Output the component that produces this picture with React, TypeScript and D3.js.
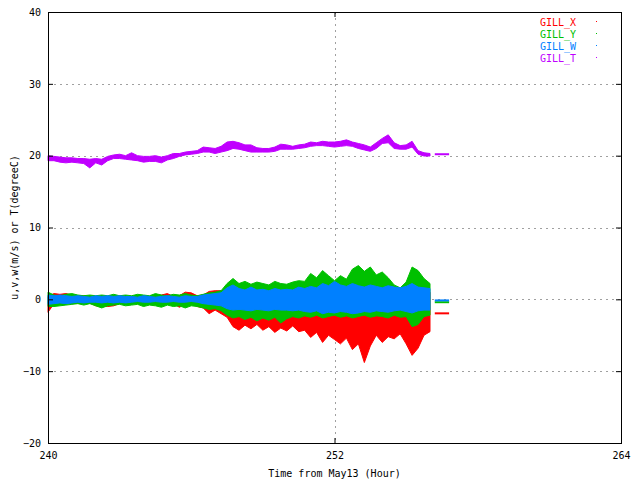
import React, { useEffect, useRef } from 'react';
import * as d3 from 'd3';

// samples every 0.25 hour from 240 to 256
const sampleStart = 240;
const sampleStep = 0.25;

// GILL_T (degC), upper / lower envelope
const gillTHi = [
  20.0, 19.9, 19.8, 19.7, 19.7, 19.6, 19.6, 19.5, 19.6, 19.5,
  19.9, 20.1, 20.2, 20.0, 20.4, 20.0, 19.9, 19.9, 20.0, 19.8,
  20.0, 20.3, 20.3, 20.5, 20.6, 20.7, 21.2, 21.1, 21.0, 21.3,
  21.9, 22.0, 21.8, 21.5, 21.5, 21.1, 21.0, 21.0, 21.2, 21.6,
  21.5, 21.3, 21.5, 21.6, 21.9, 21.8, 22.0, 21.9, 21.9, 22.0,
  22.2, 21.9, 21.7, 21.5, 21.2, 21.8, 22.4, 22.9, 21.8, 21.4,
  21.5, 22.0, 20.7, 20.4, 20.3
];
const gillTLo = [
  19.3, 19.3, 19.1, 19.0, 19.1, 19.0, 18.9, 18.3, 19.0, 18.7,
  19.3, 19.6, 19.6, 19.5, 19.4, 19.3, 19.1, 19.2, 19.2, 19.0,
  19.4, 19.6, 19.9, 20.1, 20.2, 20.3, 20.5, 20.5, 20.3, 20.5,
  20.7, 21.0, 20.9, 20.7, 20.5, 20.5, 20.5, 20.5, 20.6, 20.9,
  20.9, 20.9, 21.0, 21.1, 21.3, 21.4, 21.4, 21.3, 21.2, 21.3,
  21.4, 21.3, 21.0, 20.8, 20.6, 21.0, 21.7, 21.8, 21.0, 20.9,
  20.9, 21.2, 20.2, 19.95, 19.95
];

// GILL_W (m/s)
const gillWHi = [
  0.6, 0.5, 0.6, 0.5, 0.4, 0.5, 0.4, 0.3, 0.5, 0.4,
  0.5, 0.4, 0.5, 0.4, 0.4, 0.3, 0.5, 0.4, 0.3, 0.4,
  0.5, 0.4, 0.3, 0.5, 0.4, 0.4, 0.6, 0.7, 0.8, 0.9,
  1.6, 2.0, 1.5, 1.3, 1.7, 1.3, 1.4, 1.2, 1.5, 1.3,
  1.4, 1.3, 1.7, 1.5, 1.8, 1.6, 2.2, 1.9, 2.5, 2.0,
  1.8, 2.2, 1.9, 1.7, 2.0, 1.8, 1.6, 1.9, 1.7, 1.6,
  1.8, 2.2, 1.7, 1.6, 1.5
];
const gillWLo = [
  -0.7, -0.6, -0.5, -0.6, -0.5, -0.4, -0.5, -0.4, -0.4, -0.5,
  -0.4, -0.5, -0.4, -0.5, -0.4, -0.3, -0.4, -0.4, -0.3, -0.4,
  -0.4, -0.3, -0.4, -0.4, -0.3, -0.4, -0.6, -0.7, -0.8, -0.9,
  -1.3, -1.5, -1.4, -1.5, -1.6, -1.4, -1.5, -1.6, -1.4, -1.5,
  -1.5, -1.6, -1.5, -1.7, -1.8, -1.6, -2.0, -1.8, -1.9, -1.7,
  -1.8, -2.0, -1.9, -1.7, -1.8, -1.6, -1.7, -1.8, -1.6, -1.5,
  -1.7, -1.9, -1.6, -1.5, -1.5
];

// GILL_Y (m/s)
const gillYHi = [
  1.0, 0.6, 0.5, 0.7, 0.8, 0.6, 0.5, 0.6, 0.5, 0.6,
  0.5, 0.7, 0.5, 0.6, 0.5, 0.7, 0.6, 0.5, 0.8, 0.6,
  0.5, 0.7, 0.6, 0.8, 0.6, 0.5, 0.7, 0.9, 1.0, 1.2,
  2.2, 2.9, 2.2, 2.5, 2.1, 2.4, 2.2, 2.0, 2.5, 2.2,
  2.1, 2.4, 2.6, 2.5, 3.6, 3.0, 4.0, 3.3, 2.6, 3.3,
  2.8, 4.2, 4.7, 3.9, 4.5, 3.4, 3.8, 3.0, 2.0, 1.6,
  2.4, 4.5, 4.0, 2.9, 2.2
];
const gillYLo = [
  -1.0, -1.0, -0.9, -0.8, -0.7, -0.6, -0.8, -0.6, -0.9, -1.2,
  -0.9, -0.8, -0.7, -0.9, -0.8, -0.7, -1.0, -0.8, -0.9, -1.1,
  -0.8, -1.0, -0.9, -1.2, -0.9, -1.0, -1.2, -1.4, -1.3, -1.6,
  -2.2, -2.6, -2.4, -2.8, -2.5, -3.0, -2.6, -2.9, -2.5, -3.3,
  -2.7, -2.4, -2.6, -2.3, -2.5, -2.2, -2.6, -2.4, -2.2, -2.5,
  -2.3, -2.6, -2.4, -2.2, -2.5, -2.3, -2.4, -2.6, -2.2, -2.5,
  -2.4, -3.8, -3.5, -2.4, -2.2
];

// GILL_X (m/s)
const gillXHi = [
  0.4, 0.8, 0.7, 0.8, 0.6, 0.5, 0.5, 0.4, 0.3, 0.3,
  0.4, 0.3, 0.5, 0.4, 0.3, 0.5, 0.4, 0.3, 0.5, 0.6,
  0.8, 0.4, 0.5, 1.0, 0.9, 0.5, 0.6, 1.1, 1.2, 1.2,
  1.0, 1.2, 1.0, 1.1, 1.0, 1.1, 1.0, 1.0, 1.1, 1.0,
  1.0, 1.0, 1.1, 1.0, 1.2, 1.0, 1.2, 1.1, 1.0, 1.2,
  1.0, 1.2, 1.1, 1.0, 1.1, 1.0, 1.1, 1.0, 1.0, 1.0,
  1.0, 1.2, 1.0, 1.0, 1.0
];
const gillXLo = [
  -1.8, -0.6, -0.5, -0.4, -0.6, -0.5, -0.6, -0.5, -0.9, -1.0,
  -1.0, -0.9, -0.6, -0.5, -0.5, -0.6, -0.8, -0.7, -0.5, -0.6,
  -0.5, -0.6, -1.1, -0.7, -0.6, -1.0, -1.2, -2.0, -1.5, -2.0,
  -2.5, -3.8, -4.3, -3.6, -4.1, -3.5, -4.3, -3.8, -4.6, -4.0,
  -4.4, -3.7, -4.5, -4.3, -5.3, -4.6, -6.0, -5.0, -5.6, -6.2,
  -5.4, -7.0, -6.2, -8.8, -6.5, -5.0, -6.0, -5.2, -5.5, -4.8,
  -6.2, -7.8, -6.8, -5.0, -4.5
];

// short flat pieces after the gap
const tailHours = [256.2, 256.8];
const tailX = -1.95;
const tailY = -0.4;
const tailW = -0.15;
const tailT = 20.2;

const xTicks = [240, 252, 264];
const yTicks = [-20, -10, 0, 10, 20, 30, 40];

const series = [
  { name: 'GILL_X', color: '#ff0000', hi: gillXHi, lo: gillXLo, tail: tailX },
  { name: 'GILL_Y', color: '#00c000', hi: gillYHi, lo: gillYLo, tail: tailY },
  { name: 'GILL_W', color: '#0080ff', hi: gillWHi, lo: gillWLo, tail: tailW },
  { name: 'GILL_T', color: '#c000ff', hi: gillTHi, lo: gillTLo, tail: tailT },
];

const App: React.FC = () => {
  const svgRef = useRef<SVGSVGElement>(null);

  useEffect(() => {
    const svg = d3.select(svgRef.current);
    svg.selectAll('*').remove();

    const width = 640;
    const height = 480;
    const left = 48, right = 621, top = 12, bottom = 443;
    const font = "'DejaVu Sans Mono', monospace";

    svg.attr('width', width).attr('height', height);
    svg.append('rect').attr('width', width).attr('height', height).attr('fill', '#fff');

    const x = d3.scaleLinear().domain([240, 264]).range([left, right]);
    const y = d3.scaleLinear().domain([-20, 40]).range([bottom, top]);

    // grid
    const grid = svg.append('g')
      .attr('stroke', '#a0a0a0')
      .attr('stroke-width', 1)
      .attr('stroke-dasharray', '2,4');
    yTicks.filter(v => v > -20 && v < 40).forEach(v => {
      grid.append('line')
        .attr('x1', left).attr('x2', right)
        .attr('y1', Math.round(y(v)) + 0.5).attr('y2', Math.round(y(v)) + 0.5);
    });
    xTicks.filter(v => v > 240 && v < 264).forEach(v => {
      grid.append('line')
        .attr('x1', Math.round(x(v)) + 0.5).attr('x2', Math.round(x(v)) + 0.5)
        .attr('y1', top).attr('y2', bottom);
    });

    // data
    const hourOf = (i: number) => sampleStart + i * sampleStep;
    series.forEach(s => {
      const idx = s.hi.map((_, i) => i);
      const area = d3.area<number>()
        .x(i => x(hourOf(i)))
        .y0(i => y(s.lo[i]))
        .y1(i => y(s.hi[i]));
      svg.append('path')
        .datum(idx)
        .attr('d', area)
        .attr('fill', s.color)
        .attr('stroke', s.color)
        .attr('stroke-width', 1);

      svg.append('line')
        .attr('x1', x(tailHours[0])).attr('x2', x(tailHours[1]))
        .attr('y1', y(s.tail)).attr('y2', y(s.tail))
        .attr('stroke', s.color)
        .attr('stroke-width', 2);
    });

    // axes
    const yAxis = svg.append('g')
      .attr('transform', `translate(${left},0)`)
      .call(d3.axisLeft(y).tickValues(yTicks).tickSize(-5).tickPadding(7).tickFormat(d3.format('d')));
    const yAxisR = svg.append('g')
      .attr('transform', `translate(${right},0)`)
      .call(d3.axisRight(y).tickValues(yTicks).tickSize(-5).tickFormat(() => ''));
    const xAxis = svg.append('g')
      .attr('transform', `translate(0,${bottom})`)
      .call(d3.axisBottom(x).tickValues(xTicks).tickSize(-5).tickPadding(9).tickFormat(d3.format('d')));
    const xAxisT = svg.append('g')
      .attr('transform', `translate(0,${top})`)
      .call(d3.axisTop(x).tickValues(xTicks).tickSize(-5).tickFormat(() => ''));
    [yAxis, yAxisR, xAxis, xAxisT].forEach(a => {
      a.select('.domain').remove();
      a.selectAll('line').attr('stroke', '#000');
      a.selectAll('text')
        .style('font-family', font)
        .style('font-size', '10px')
        .attr('fill', '#000');
    });

    // border
    svg.append('rect')
      .attr('x', left + 0.5).attr('y', top + 0.5)
      .attr('width', right - left).attr('height', bottom - top)
      .attr('fill', 'none')
      .attr('stroke', '#000')
      .attr('stroke-width', 1);

    // axis labels
    svg.append('text')
      .attr('x', (left + right) / 2)
      .attr('y', 477)
      .attr('text-anchor', 'middle')
      .style('font-family', font)
      .style('font-size', '10px')
      .text('Time from May13 (Hour)');

    svg.append('text')
      .attr('transform', `translate(18,${(top + bottom) / 2}) rotate(-90)`)
      .attr('text-anchor', 'middle')
      .style('font-family', font)
      .style('font-size', '10px')
      .text('u,v,w(m/s) or T(degreeC)');

    // legend
    series.forEach((s, i) => {
      const by = 26 + i * 12;
      svg.append('text')
        .attr('x', 576)
        .attr('y', by)
        .attr('text-anchor', 'end')
        .attr('fill', s.color)
        .style('font-family', font)
        .style('font-size', '10px')
        .text(s.name);
      svg.append('rect')
        .attr('x', 596).attr('y', by - 5)
        .attr('width', 1).attr('height', 1)
        .attr('fill', s.color);
    });
  }, []);

  return (
    <div style={{ position: 'absolute', left: 0, top: 0 }}>
      <svg ref={svgRef}></svg>
    </div>
  );
};

export default App;
